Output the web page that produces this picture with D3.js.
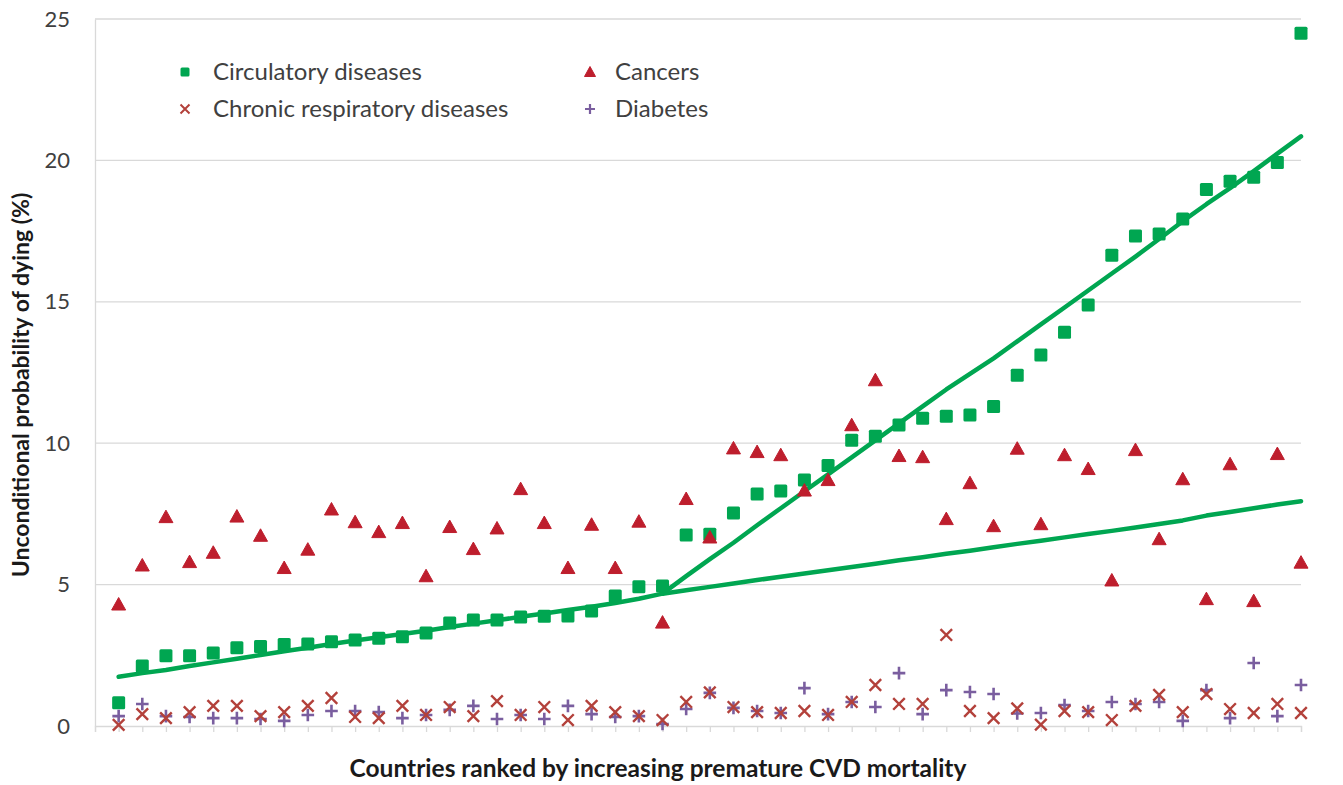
<!DOCTYPE html>
<html><head><meta charset="utf-8">
<script src="https://cdn.jsdelivr.net/npm/d3@7"></script>
<style>body{margin:0;background:#fff;}svg{display:block;}</style>
</head><body><svg id="c" width="1343" height="785"></svg>
<script>
const countries = d3.range(1, 52); // 51 countries ranked
const circulatory = [0.82,2.12,2.48,2.48,2.58,2.77,2.81,2.88,2.9,2.98,3.04,3.1,3.16,3.29,3.64,3.75,3.75,3.85,3.88,3.89,4.07,4.6,4.92,4.95,6.75,6.78,7.53,8.2,8.31,8.7,9.21,10.1,10.25,10.64,10.88,10.95,11.0,11.3,12.4,13.12,13.92,14.89,16.65,17.33,17.4,17.93,18.97,19.26,19.4,19.93,24.5];
const cancers = [4.3,5.68,7.39,5.8,6.13,7.41,6.73,5.59,6.24,7.66,7.21,6.86,7.18,5.3,7.04,6.26,6.99,8.38,7.18,5.59,7.12,5.59,7.23,3.66,8.03,6.67,9.82,9.69,9.58,8.33,8.7,10.64,12.23,9.55,9.51,7.32,8.59,7.07,9.81,7.14,9.58,9.09,5.15,9.76,6.61,8.73,4.49,9.26,4.42,9.62,5.78];
const respiratory = [0.04,0.42,0.28,0.49,0.71,0.71,0.35,0.49,0.71,0.99,0.32,0.28,0.71,0.39,0.67,0.35,0.88,0.39,0.67,0.21,0.71,0.49,0.35,0.21,0.85,1.19,0.67,0.49,0.46,0.53,0.39,0.85,1.45,0.78,0.78,3.22,0.53,0.28,0.62,0.05,0.53,0.49,0.21,0.71,1.1,0.49,1.13,0.6,0.46,0.78,0.46];
const diabetes = [0.35,0.78,0.35,0.32,0.28,0.28,0.25,0.18,0.39,0.53,0.53,0.49,0.28,0.39,0.57,0.71,0.25,0.39,0.25,0.71,0.42,0.32,0.35,0.07,0.6,1.17,0.64,0.53,0.46,1.34,0.42,0.85,0.67,1.87,0.42,1.27,1.2,1.13,0.44,0.46,0.74,0.53,0.85,0.78,0.85,0.18,1.27,0.28,2.23,0.35,1.45];
const trendLowX = d3.range(1, 52);
const trendLow = [1.74,1.87,1.98,2.12,2.25,2.38,2.51,2.64,2.77,2.9,3.02,3.14,3.25,3.37,3.5,3.62,3.74,3.86,3.98,4.1,4.22,4.35,4.5,4.68,4.8,4.92,5.04,5.16,5.28,5.39,5.51,5.62,5.74,5.86,5.97,6.09,6.2,6.32,6.44,6.55,6.67,6.79,6.9,7.02,7.14,7.27,7.44,7.57,7.7,7.83,7.95];
const trendHighX = d3.range(24, 52);
const trendHigh = [4.68,5.3,5.9,6.48,7.1,7.7,8.3,8.9,9.5,10.1,10.7,11.3,11.9,12.45,13.0,13.6,14.2,14.8,15.4,16.0,16.6,17.22,17.85,18.45,19.02,19.62,20.24,20.85];
const yTicks = [0,5,10,15,20,25];
const seriesNames = ["Circulatory diseases","Cancers","Chronic respiratory diseases","Diabetes"];
const yTitle = "Unconditional probability of dying (%)";
const xTitle = "Countries ranked by increasing premature CVD mortality";

const C_GREEN = "#00A651", C_RED = "#BE1E2D", C_X = "#B3413B", C_PLUS = "#7A5E9F";
const svg = d3.select("#c");
const L = 95, R = 1301, T = 19, B = 726;
const x = d3.scaleLinear().domain([0, 51]).range([L, R]);
const y = d3.scaleLinear().domain([0, 25]).range([B, T]);
const font = "Lato, 'Open Sans', sans-serif";

// grid
svg.append("g").selectAll("line").data(yTicks.filter(d => d > 0)).join("line")
  .attr("x1", L).attr("x2", R).attr("y1", d => y(d)).attr("y2", d => y(d))
  .attr("stroke", "#d9d9d9").attr("stroke-width", 1.3);

// y axis
const ya = svg.append("g").attr("transform", `translate(${L},0)`)
  .call(d3.axisLeft(y).tickValues(yTicks).tickSize(0).tickPadding(25));
ya.select(".domain").attr("stroke", "#d9d9d9").attr("stroke-width", 1.3);
ya.selectAll("text").attr("font-family", font).attr("font-size", 22).attr("fill", "#404040");

// x axis
const xa = svg.append("g").attr("transform", `translate(0,${B})`)
  .call(d3.axisBottom(x).tickValues(d3.range(0, 52)).tickSize(6).tickFormat(""));
xa.select(".domain").attr("stroke", "#d9d9d9").attr("stroke-width", 1.3);
xa.selectAll(".tick line").attr("stroke", "#d9d9d9").attr("stroke-width", 1.3);

// trend lines
const line = d3.line().x(d => x(d[0])).y(d => y(d[1]));
svg.append("path").datum(trendLowX.map((c, i) => [c, trendLow[i]]))
  .attr("d", line).attr("fill", "none").attr("stroke", C_GREEN).attr("stroke-width", 4.5).attr("stroke-linecap", "round").attr("stroke-linejoin", "round");
svg.append("path").datum(trendHighX.map((c, i) => [c, trendHigh[i]]))
  .attr("d", line).attr("fill", "none").attr("stroke", C_GREEN).attr("stroke-width", 4.5).attr("stroke-linecap", "round").attr("stroke-linejoin", "round");

// marker helpers
function sq(g, cx, cy, s) { g.append("rect").attr("x", cx - s/2).attr("y", cy - s/2).attr("width", s).attr("height", s).attr("rx", 1.5).attr("fill", C_GREEN); }
function tri(g, cx, cy, w, h) { g.append("path").attr("d", `M${cx},${cy - h*0.55}L${cx + w/2},${cy + h*0.45}L${cx - w/2},${cy + h*0.45}Z`).attr("fill", C_RED).attr("stroke", C_RED).attr("stroke-width", 1).attr("stroke-linejoin", "round"); }
function cross(g, cx, cy, r, sw) { g.append("path").attr("d", `M${cx-r},${cy-r}L${cx+r},${cy+r}M${cx-r},${cy+r}L${cx+r},${cy-r}`).attr("stroke", C_X).attr("stroke-width", sw).attr("fill", "none"); }
function plus(g, cx, cy, r, sw) { g.append("path").attr("d", `M${cx-r},${cy}L${cx+r},${cy}M${cx},${cy-r}L${cx},${cy+r}`).attr("stroke", C_PLUS).attr("stroke-width", sw).attr("fill", "none"); }

const gS = svg.append("g"), gT = svg.append("g"), gP = svg.append("g"), gX = svg.append("g");
countries.forEach((c, i) => {
  sq(gS, x(c), y(circulatory[i]), 13);
  tri(gT, x(c), y(cancers[i]), 14, 12.5);
  plus(gP, x(c), y(diabetes[i]), 6.3, 2.6);
  cross(gX, x(c), y(respiratory[i]), 5.8, 2.4);
});

// legend
const lg = svg.append("g");
sq(lg, 185, 72, 9);
tri(lg, 590, 72, 11, 10);
cross(lg, 185, 109, 4.5, 2);
plus(lg, 590, 109, 5, 2.2);
const legendPos = [[213,72],[615,72],[213,109],[615,109]];
seriesNames.forEach((n, i) => {
  lg.append("text").attr("x", legendPos[i][0]).attr("y", legendPos[i][1]).attr("dy", "0.35em")
    .attr("font-family", font).attr("font-size", 24).attr("fill", "#404040").text(n);
});

// titles
svg.append("text").attr("transform", "translate(29,385) rotate(-90)").attr("text-anchor", "middle")
  .attr("font-family", font).attr("font-weight", "bold").attr("font-size", 23).attr("fill", "#1a1a1a").text(yTitle);
svg.append("text").attr("x", 658).attr("y", 777).attr("text-anchor", "middle")
  .attr("font-family", font).attr("font-weight", "bold").attr("font-size", 24.5).attr("fill", "#1a1a1a").text(xTitle);
</script></body></html>
